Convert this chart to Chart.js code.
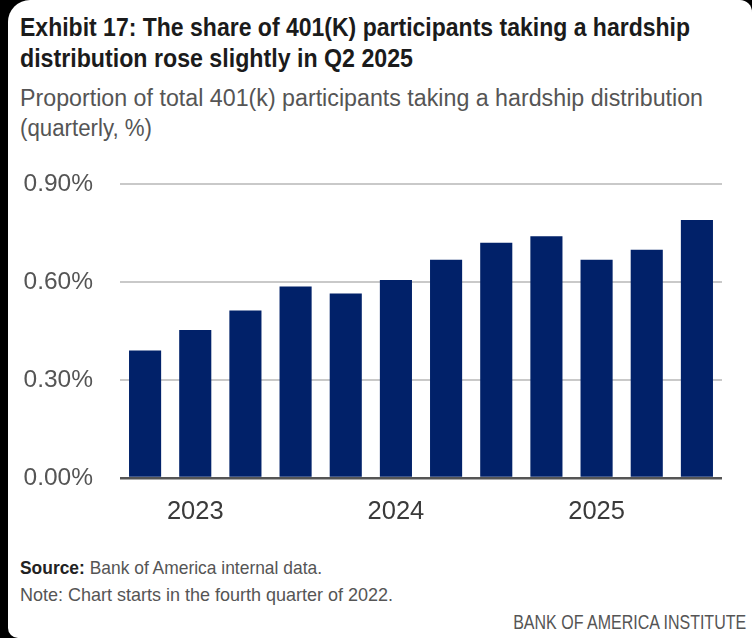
<!DOCTYPE html>
<html>
<head>
<meta charset="utf-8">
<script src="https://cdn.jsdelivr.net/npm/chart.js@4.4.1/dist/chart.umd.min.js"></script>
<style>
  html, body { margin:0; padding:0; width:752px; height:638px; overflow:hidden; background:#000; }
  #card { position:absolute; left:8px; top:0; right:0; bottom:0; background:#fff;
          border-radius:22px 12px 0 10px; }
  .t { position:absolute; white-space:nowrap; line-height:1; font-family:"Liberation Sans",Arial,sans-serif; display:inline-block; transform-origin:left top; }
  .title { font-weight:bold; font-size:25px; color:#1b1b1b; left:20px; }
  .sub { font-size:23.5px; color:#555; left:20px; }
  .foot { font-size:19px; color:#555; left:20px; }
  .foot b { color:#222; }
  #brand { font-size:20px; color:#555; transform-origin:right top; }
  #c { position:absolute; left:0; top:0; }
</style>
</head>
<body>
<div id="card"></div>
<div class="t title" style="top:15px" data-w="670">Exhibit 17: The share of 401(K) participants taking a hardship</div>
<div class="t title" style="top:46px" data-w="393">distribution rose slightly in Q2 2025</div>
<div class="t sub" style="top:87px" data-w="683">Proportion of total 401(k) participants taking a hardship distribution</div>
<div class="t sub" style="top:117px" data-w="132">(quarterly, %)</div>
<div class="t foot" style="top:558px" data-w="302"><b>Source:</b> Bank of America internal data.</div>
<div class="t foot" style="top:585px" data-w="373">Note: Chart starts in the fourth quarter of 2022.</div>
<div class="t" id="brand" style="top:612px; right:6px;" data-w="233">BANK OF AMERICA INSTITUTE</div>
<canvas id="c" width="752" height="638"></canvas>
<script>
const categories = ["Q4 2022","Q1 2023","Q2 2023","Q3 2023","Q4 2023","Q1 2024","Q2 2024","Q3 2024","Q4 2024","Q1 2025","Q2 2025","Q3 2025"];
const shareValues = [0.39, 0.453, 0.513, 0.586, 0.565, 0.606, 0.668, 0.72, 0.74, 0.668, 0.699, 0.79];
const yTickValues = [0, 0.3, 0.6, 0.9];

function fitTexts() {
  document.querySelectorAll('.t[data-w]').forEach(el => {
    el.style.transform = 'none';
    const w = el.getBoundingClientRect().width;
    const target = parseFloat(el.dataset.w);
    if (w > 0) el.style.transform = 'scaleX(' + (target / w) + ')';
  });
}
fitTexts();
if (document.fonts && document.fonts.ready) document.fonts.ready.then(fitTexts);

const FONT = '"Liberation Sans",Arial,sans-serif';

new Chart(document.getElementById('c'), {
  type: 'bar',
  data: {
    labels: categories,
    datasets: [{
      data: shareValues,
      backgroundColor: '#012169',
      borderWidth: 0,
      barPercentage: 0.8,
      categoryPercentage: 0.8
    }]
  },
  options: {
    responsive: false,
    animation: false,
    layout: { padding: { top: 184, right: 30, left: 0, bottom: 0 } },
    plugins: { legend: { display: false }, tooltip: { enabled: false } },
    scales: {
      x: {
        grid: { display: false, drawTicks: false },
        border: { display: false },
        ticks: {
          autoSkip: false, maxRotation: 0, minRotation: 0, padding: 19,
          color: '#3a3a3a',
          font: { family: FONT, size: 25.5 },
          callback: (v, i) => categories[i].startsWith('Q1') ? categories[i].slice(3) : ''
        },
        afterFit: s => { s.height = 160; }
      },
      y: {
        min: 0, max: 0.9,
        afterBuildTicks: s => { s.ticks = yTickValues.map(v => ({ value: v })); },
        grid: {
          drawTicks: false,
          color: c => c.tick && c.tick.value === 0 ? '#555555' : '#c9c9c9',
          lineWidth: c => c.tick && c.tick.value === 0 ? 2.5 : 2
        },
        border: { display: false },
        ticks: {
          padding: 27,
          color: '#555',
          font: { family: FONT, size: 24.5 },
          callback: v => Number(v).toFixed(2) + '%'
        },
        afterFit: s => { s.width = 120; }
      }
    }
  }
});
</script>
</body>
</html>
